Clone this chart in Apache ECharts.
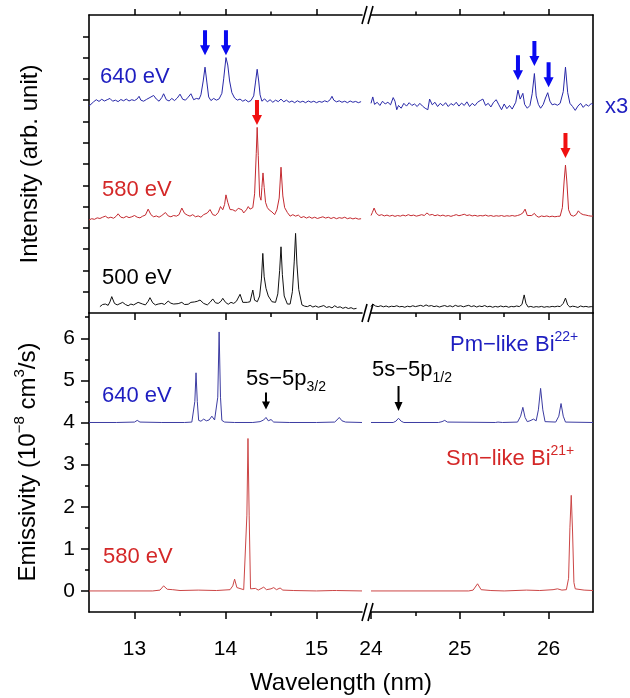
<!DOCTYPE html>
<html>
<head>
<meta charset="utf-8">
<script src="https://cdn.jsdelivr.net/npm/echarts@6.0.0/dist/echarts.min.js"></script>
<style>
  html, body { margin: 0; padding: 0; background: #fff; }
  #chart { width: 630px; height: 698px; }
</style>
</head>
<body>
<div id="chart"></div>
<script>
// ---- measured spectra, top panel (arb. unit), [wavelength nm, intensity] ----
const top640L = [[12.50,9.72],[12.52,9.80],[12.55,9.92],[12.58,10.02],[12.61,9.94],[12.64,10.04],[12.67,9.96],[12.70,10.02],[12.73,10.08],[12.76,9.95],[12.79,10.00],[12.82,9.93],[12.85,10.03],[12.88,9.97],[12.91,10.05],[12.94,9.96],[12.97,10.02],[13.00,9.98],[13.03,10.06],[13.05,10.18],[13.07,10.00],[13.10,9.95],[13.13,10.03],[13.16,10.10],[13.18,10.04],[13.21,10.22],[13.24,10.05],[13.27,9.95],[13.30,10.12],[13.32,10.30],[13.35,10.02],[13.38,9.96],[13.41,10.08],[13.44,9.98],[13.47,10.10],[13.50,10.28],[13.53,10.04],[13.56,10.00],[13.59,10.14],[13.62,10.30],[13.65,10.02],[13.68,10.08],[13.71,10.05],[13.73,10.25],[13.755,10.90],[13.775,11.55],[13.795,10.85],[13.815,10.15],[13.84,9.98],[13.87,10.08],[13.90,10.00],[13.93,10.06],[13.96,10.32],[13.98,11.00],[14.005,12.00],[14.025,11.65],[14.045,10.90],[14.07,10.35],[14.10,10.10],[14.13,10.00],[14.16,10.05],[14.19,9.95],[14.22,10.02],[14.25,9.92],[14.28,9.98],[14.31,10.20],[14.33,10.85],[14.348,11.45],[14.365,10.90],[14.38,10.25],[14.40,9.95],[14.43,10.06],[14.46,9.92],[14.49,10.02],[14.52,9.90],[14.55,10.00],[14.58,9.93],[14.61,10.05],[14.64,9.92],[14.67,10.00],[14.70,9.90],[14.73,9.96],[14.76,9.88],[14.79,9.97],[14.82,9.90],[14.85,9.95],[14.88,9.88],[14.91,9.96],[14.94,9.90],[14.97,9.95],[15.00,9.88],[15.03,9.94],[15.06,9.90],[15.09,9.97],[15.12,9.92],[15.15,10.02],[15.17,10.18],[15.19,10.00],[15.22,9.92],[15.25,9.97],[15.28,9.90],[15.31,9.95],[15.34,9.88],[15.37,9.96],[15.40,9.90],[15.43,9.94],[15.46,9.88],[15.49,9.93]];
const top640R = [[24.00,9.85],[24.02,10.15],[24.04,9.80],[24.07,9.90],[24.10,9.75],[24.13,9.95],[24.16,9.82],[24.19,9.90],[24.22,9.78],[24.25,10.12],[24.27,9.95],[24.29,9.55],[24.31,9.75],[24.34,9.62],[24.37,9.85],[24.40,9.72],[24.43,9.88],[24.46,9.75],[24.49,9.82],[24.52,9.70],[24.55,9.85],[24.58,9.72],[24.61,9.62],[24.64,9.55],[24.66,10.05],[24.69,9.78],[24.72,9.90],[24.75,9.70],[24.78,9.85],[24.81,9.74],[24.84,9.88],[24.87,9.70],[24.90,9.84],[24.93,9.76],[24.96,9.90],[24.99,9.72],[25.02,9.86],[25.05,9.75],[25.08,9.92],[25.11,9.70],[25.14,9.85],[25.17,9.74],[25.20,9.90],[25.23,9.98],[25.26,10.05],[25.29,9.75],[25.32,9.85],[25.35,9.68],[25.38,9.90],[25.41,10.02],[25.44,9.78],[25.47,9.55],[25.50,9.82],[25.53,9.60],[25.56,9.75],[25.59,9.58],[25.63,9.90],[25.655,10.47],[25.68,10.05],[25.71,10.32],[25.73,9.80],[25.76,9.62],[25.79,9.75],[25.815,10.30],[25.84,11.25],[25.86,10.20],[25.885,9.80],[25.91,9.62],[25.94,9.80],[25.965,10.10],[25.99,10.35],[26.015,9.95],[26.04,9.78],[26.07,9.82],[26.10,9.76],[26.13,9.85],[26.165,10.40],[26.19,11.55],[26.215,10.35],[26.24,9.85],[26.27,9.70],[26.30,9.52],[26.33,9.72],[26.36,9.85],[26.39,9.66],[26.42,9.80],[26.45,9.72],[26.48,9.84],[26.50,9.78]];
const top580L = [[12.50,4.37],[12.53,4.43],[12.56,4.40],[12.59,4.47],[12.62,4.44],[12.65,4.50],[12.68,4.55],[12.71,4.46],[12.74,4.50],[12.77,4.45],[12.80,4.55],[12.82,4.66],[12.85,4.50],[12.88,4.47],[12.91,4.54],[12.94,4.48],[12.97,4.52],[13.00,4.58],[13.03,4.50],[13.06,4.47],[13.09,4.55],[13.12,4.60],[13.15,4.88],[13.18,4.62],[13.21,4.52],[13.24,4.56],[13.27,4.50],[13.30,4.58],[13.34,4.72],[13.37,4.56],[13.40,4.52],[13.43,4.58],[13.46,4.55],[13.49,4.62],[13.52,4.93],[13.55,4.68],[13.58,4.60],[13.61,4.55],[13.64,4.62],[13.67,4.52],[13.70,4.56],[13.73,4.50],[13.76,4.62],[13.80,4.70],[13.83,4.86],[13.86,4.62],[13.89,4.58],[13.92,4.72],[13.945,5.00],[13.97,4.85],[13.99,5.10],[14.005,5.55],[14.025,5.20],[14.05,4.86],[14.08,4.85],[14.11,4.78],[14.14,4.92],[14.16,5.00],[14.18,4.85],[14.20,4.70],[14.23,4.85],[14.25,5.00],[14.27,4.88],[14.30,4.95],[14.32,5.60],[14.338,7.50],[14.348,8.72],[14.36,7.40],[14.375,5.50],[14.39,5.30],[14.40,5.90],[14.412,6.58],[14.425,5.90],[14.44,5.20],[14.46,4.95],[14.48,4.84],[14.51,4.75],[14.54,4.62],[14.565,4.85],[14.59,5.40],[14.61,6.85],[14.63,5.50],[14.65,4.95],[14.68,4.72],[14.71,4.55],[14.74,4.62],[14.77,4.55],[14.80,4.60],[14.83,4.48],[14.86,4.53],[14.89,4.46],[14.92,4.52],[14.95,4.45],[14.98,4.50],[15.01,4.44],[15.04,4.48],[15.07,4.52],[15.10,4.46],[15.13,4.50],[15.16,4.44],[15.19,4.49],[15.22,4.43],[15.25,4.48],[15.28,4.45],[15.31,4.50],[15.34,4.43],[15.37,4.47],[15.40,4.42],[15.43,4.46],[15.46,4.41],[15.49,4.43]];
const top580R = [[24.00,4.58],[24.015,4.72],[24.035,4.93],[24.06,4.68],[24.09,4.58],[24.12,4.62],[24.15,4.56],[24.18,4.60],[24.21,4.55],[24.24,4.59],[24.27,4.54],[24.30,4.58],[24.33,4.55],[24.36,4.60],[24.39,4.56],[24.42,4.62],[24.45,4.57],[24.48,4.60],[24.51,4.55],[24.54,4.58],[24.57,4.62],[24.60,4.58],[24.63,4.70],[24.66,4.60],[24.69,4.63],[24.72,4.57],[24.75,4.61],[24.78,4.56],[24.81,4.60],[24.84,4.55],[24.87,4.58],[24.90,4.54],[24.93,4.58],[24.96,4.62],[24.99,4.57],[25.02,4.60],[25.05,4.64],[25.08,4.58],[25.11,4.61],[25.14,4.56],[25.17,4.59],[25.20,4.55],[25.23,4.58],[25.26,4.56],[25.29,4.60],[25.32,4.55],[25.35,4.58],[25.38,4.54],[25.41,4.57],[25.44,4.55],[25.47,4.58],[25.50,4.54],[25.53,4.57],[25.56,4.55],[25.59,4.58],[25.62,4.55],[25.65,4.58],[25.68,4.62],[25.71,4.70],[25.735,4.88],[25.76,4.58],[25.78,4.50],[25.81,4.58],[25.84,4.68],[25.865,4.55],[25.89,4.50],[25.92,4.56],[25.95,4.53],[25.98,4.56],[26.01,4.52],[26.04,4.55],[26.07,4.52],[26.10,4.54],[26.13,4.55],[26.155,4.95],[26.175,6.20],[26.19,6.95],[26.205,6.20],[26.225,4.85],[26.25,4.60],[26.28,4.55],[26.31,4.62],[26.335,4.80],[26.36,4.68],[26.39,4.62],[26.42,4.60],[26.45,4.57],[26.48,4.55],[26.50,4.56]];
const top500L = [[12.62,0.30],[12.65,0.40],[12.68,0.42],[12.71,0.36],[12.73,0.52],[12.75,0.77],[12.78,0.45],[12.81,0.38],[12.84,0.44],[12.87,0.50],[12.90,0.40],[12.93,0.34],[12.96,0.42],[12.99,0.38],[13.01,0.45],[13.04,0.50],[13.06,0.56],[13.09,0.42],[13.12,0.38],[13.15,0.55],[13.17,0.72],[13.20,0.48],[13.23,0.38],[13.26,0.42],[13.30,0.45],[13.33,0.40],[13.37,0.56],[13.40,0.46],[13.43,0.42],[13.45,0.38],[13.48,0.44],[13.52,0.50],[13.55,0.40],[13.59,0.41],[13.62,0.50],[13.66,0.52],[13.69,0.55],[13.72,0.61],[13.76,0.45],[13.80,0.38],[13.83,0.50],[13.86,0.66],[13.89,0.48],[13.92,0.45],[13.95,0.55],[13.97,0.69],[14.00,0.50],[14.03,0.41],[14.06,0.50],[14.09,0.45],[14.12,0.55],[14.16,0.88],[14.19,0.50],[14.21,0.41],[14.24,0.50],[14.27,0.53],[14.30,1.08],[14.32,0.60],[14.35,0.53],[14.375,0.80],[14.395,1.60],[14.41,2.80],[14.425,1.70],[14.445,1.16],[14.47,0.80],[14.51,0.53],[14.55,0.50],[14.575,0.90],[14.595,2.00],[14.61,3.11],[14.625,1.80],[14.645,0.80],[14.68,0.42],[14.71,0.42],[14.735,1.00],[14.755,2.40],[14.77,3.74],[14.785,2.30],[14.805,1.10],[14.84,0.38],[14.87,0.32],[14.90,0.30],[14.93,0.36],[14.96,0.28],[14.99,0.33],[15.02,0.27],[15.05,0.31],[15.08,0.35],[15.11,0.26],[15.14,0.30],[15.17,0.24],[15.20,0.34],[15.23,0.26],[15.26,0.29],[15.29,0.22],[15.32,0.27],[15.35,0.21],[15.38,0.25],[15.41,0.19],[15.44,0.22]];
const top500R = [[24.00,0.30],[24.02,0.42],[24.05,0.33],[24.08,0.30],[24.11,0.34],[24.14,0.29],[24.17,0.33],[24.20,0.28],[24.23,0.32],[24.26,0.30],[24.29,0.34],[24.32,0.29],[24.35,0.31],[24.38,0.27],[24.41,0.32],[24.44,0.29],[24.47,0.34],[24.50,0.30],[24.53,0.33],[24.56,0.36],[24.59,0.31],[24.62,0.38],[24.65,0.32],[24.68,0.35],[24.71,0.30],[24.74,0.33],[24.77,0.28],[24.80,0.32],[24.83,0.35],[24.86,0.30],[24.89,0.34],[24.92,0.29],[24.95,0.36],[24.98,0.31],[25.01,0.34],[25.04,0.29],[25.07,0.33],[25.10,0.36],[25.13,0.30],[25.16,0.34],[25.19,0.28],[25.22,0.33],[25.25,0.30],[25.28,0.35],[25.31,0.29],[25.34,0.32],[25.37,0.27],[25.40,0.31],[25.43,0.28],[25.46,0.33],[25.49,0.29],[25.52,0.32],[25.55,0.27],[25.58,0.31],[25.61,0.29],[25.64,0.33],[25.67,0.30],[25.70,0.40],[25.725,0.85],[25.745,0.45],[25.77,0.28],[25.80,0.31],[25.83,0.27],[25.86,0.30],[25.89,0.28],[25.92,0.31],[25.95,0.27],[25.98,0.30],[26.01,0.28],[26.04,0.31],[26.07,0.29],[26.10,0.32],[26.13,0.30],[26.165,0.45],[26.19,0.70],[26.215,0.38],[26.24,0.28],[26.27,0.32],[26.30,0.30],[26.33,0.26],[26.36,0.33],[26.39,0.29],[26.42,0.31],[26.45,0.28],[26.48,0.30],[26.50,0.29]];

// ---- model emissivity, bottom panel (1e-8 cm^3/s) ----
const bot640L = [[12.50,4.00],[12.80,4.00],[13.00,4.01],[13.03,4.05],[13.06,4.01],[13.30,4.00],[13.55,4.00],[13.63,4.01],[13.65,4.05],[13.663,4.50],[13.676,5.18],[13.69,4.50],[13.705,4.05],[13.73,4.03],[13.76,4.08],[13.79,4.04],[13.82,4.06],[13.85,4.15],[13.88,4.06],[13.90,4.05],[13.915,4.60],[13.93,6.15],[13.945,4.60],[13.96,4.05],[13.99,4.01],[14.10,4.00],[14.30,4.00],[14.38,4.02],[14.42,4.06],[14.445,4.12],[14.47,4.04],[14.50,4.07],[14.53,4.01],[14.70,4.00],[15.00,4.00],[15.20,4.01],[15.225,4.06],[15.25,4.12],[15.28,4.04],[15.32,4.01],[15.50,4.00]];
const bot640R = [[24.00,4.00],[24.25,4.00],[24.28,4.03],[24.31,4.10],[24.34,4.03],[24.37,4.00],[24.76,4.00],[24.80,4.02],[24.83,4.05],[24.86,4.01],[25.40,4.00],[25.43,4.01],[25.45,4.03],[25.48,4.00],[25.65,4.01],[25.685,4.15],[25.71,4.36],[25.735,4.12],[25.76,4.02],[25.79,4.04],[25.83,4.08],[25.86,4.04],[25.885,4.30],[25.91,4.81],[25.935,4.30],[25.96,4.02],[26.08,4.01],[26.115,4.15],[26.14,4.45],[26.165,4.15],[26.19,4.01],[26.50,4.00]];
const bot580L = [[12.50,0.00],[13.20,0.00],[13.28,0.02],[13.32,0.12],[13.36,0.04],[13.42,0.03],[13.50,0.01],[13.70,0.02],[13.90,0.01],[14.05,0.03],[14.08,0.12],[14.10,0.28],[14.125,0.08],[14.20,0.03],[14.22,0.05],[14.235,1.80],[14.247,3.62],[14.26,1.80],[14.275,0.05],[14.29,0.04],[14.33,0.06],[14.36,0.02],[14.42,0.09],[14.45,0.03],[14.50,0.05],[14.53,0.08],[14.56,0.03],[14.60,0.07],[14.63,0.02],[14.75,0.01],[15.00,0.00],[15.18,0.01],[15.20,0.04],[15.22,0.01],[15.50,0.00]];
const bot580R = [[24.00,0.00],[25.10,0.00],[25.15,0.02],[25.20,0.17],[25.24,0.03],[25.35,0.01],[25.50,0.00],[25.75,0.02],[25.90,0.01],[26.05,0.03],[26.10,0.05],[26.15,0.02],[26.20,0.03],[26.225,0.30],[26.24,1.50],[26.255,2.27],[26.27,1.40],[26.285,0.20],[26.30,0.05],[26.40,0.02],[26.50,0.01]];

// ---- arrows: [wavelength, value at the arrow tip] ----
const arrowsBlueL = [[13.775, 12.11], [14.005, 12.11]];
const arrowsBlueR = [[25.655, 10.94], [25.84, 11.60], [26.00, 10.61]];
const arrowsRedL = [[14.346, 8.83]];
const arrowsRedR = [[26.19, 7.28]];
const arrow5p32 = [[14.445, 4.31]];
const arrow5p12 = [[24.31, 4.27]];

// ---- ticks ----
const xMajorL = [13, 14, 15];
const xMinorL = [13.5, 14.5];
const xMajorR = [24, 25, 26];
const xMinorR = [24.5, 25.5];
const xMajorRtop = [25, 26];
const yMajorEm = [0, 1, 2, 3, 4, 5, 6];
const yMinorEm = [0.5, 1.5, 2.5, 3.5, 4.5, 5.5, 6.5];

const FONT = '"Liberation Sans", Arial, sans-serif';
const AX = '#000';
const BLUE = '#2828a8', RED = '#c42a30', BLACK = '#111';
const BLUE_B = '#3c3ca2', RED_B = '#cc4646';
const BLUE_TXT = '#1e1ec0', RED_TXT = '#d42828';
const BLUE_ARW = '#0a0af0', RED_ARW = '#f01010';

const rangeL = [12.5, 15.5], rangeR = [24, 26.5];
const rangeTop = [0, 14], rangeBot = [-0.5, 6.6];

// grid rects (px)
const rTL = { left: 89, top: 15, width: 273, height: 298 };
const rTR = { left: 371, top: 15, width: 222, height: 298 };
const rBL = { left: 89, top: 313, width: 273, height: 299 };
const rBR = { left: 371, top: 313, width: 222, height: 299 };
const grids = [rTL, rTR, rBL, rBR, rTL, rTR, rBL, rBR].map(r => Object.assign({ outerBoundsMode: 'none' }, r));

function xAx(gridIndex, position, range, ticks, len, withLine, labels) {
  return {
    type: 'value', gridIndex, position, min: range[0], max: range[1], interval: 0.5,
    axisLine: { show: withLine, onZero: false, lineStyle: { color: AX, width: 1.6 } },
    axisTick: { show: true, inside: false, length: len, customValues: ticks, lineStyle: { color: AX, width: 1.5 } },
    axisLabel: labels
      ? { show: true, customValues: labels, fontSize: 21, fontFamily: FONT, color: '#000', margin: 27 }
      : { show: false },
    splitLine: { show: false }
  };
}
function yHidden(gridIndex, range) {
  return { type: 'value', gridIndex, min: range[0], max: range[1], show: false };
}
function yAx(gridIndex, position, range, ticks, len, withLine, labels) {
  return {
    type: 'value', gridIndex, position, min: range[0], max: range[1], interval: 0.5,
    axisLine: { show: withLine, onZero: false, lineStyle: { color: AX, width: 1.6 } },
    axisTick: ticks ? { show: true, inside: false, length: len, customValues: ticks, lineStyle: { color: AX, width: 1.5 } } : { show: false },
    axisLabel: labels
      ? { show: true, customValues: labels, fontSize: 21, fontFamily: FONT, color: '#000', margin: 14 }
      : { show: false },
    splitLine: { show: false }
  };
}

const xAxes = [
  xAx(0, 'top', rangeL, xMajorL, 6, true),        // 0
  xAx(0, 'bottom', rangeL, xMajorL, 7, true),     // 1
  xAx(1, 'top', rangeR, xMajorRtop, 6, true),     // 2
  xAx(1, 'bottom', rangeR, xMajorRtop, 7, true),  // 3
  xAx(2, 'bottom', rangeL, xMajorL, 7, true, xMajorL), // 4
  xAx(3, 'bottom', rangeR, xMajorR, 7, true, xMajorR), // 5
  xAx(4, 'top', rangeL, xMinorL, 3.5, false),
  xAx(4, 'bottom', rangeL, xMinorL, 4, false),
  xAx(5, 'top', rangeR, xMinorR, 3.5, false),
  xAx(5, 'bottom', rangeR, xMinorR, 4, false),
  xAx(6, 'bottom', rangeL, xMinorL, 4, false),
  xAx(7, 'bottom', rangeR, xMinorR, 4, false)
];
const topTicks = [1,2,3,4,5,6,7,8,9,10,11,12,13];
const yAxes = [
  yAx(0, 'left', rangeTop, topTicks, 6, true),   // 0
  yHidden(1, rangeTop),                           // 1
  yAx(1, 'right', rangeTop, null, 0, true),       // 2
  yAx(2, 'left', rangeBot, yMajorEm, 8, true, yMajorEm), // 3
  yHidden(3, rangeBot),                           // 4
  yAx(3, 'right', rangeBot, null, 0, true),       // 5
  yHidden(4, rangeTop),
  yHidden(5, rangeTop),
  yAx(6, 'left', rangeBot, yMinorEm, 4, false),
  yHidden(7, rangeBot)
];

function line(data, xi, yi, color) {
  return { type: 'line', data, xAxisIndex: xi, yAxisIndex: yi, symbol: 'none', showSymbol: false,
    lineStyle: { color, width: 1 }, silent: true, z: 3 };
}
const ARROW_BIG = 'path://M3,0 L7,0 L7,15 L10,15 L5,25 L0,15 L3,15 Z';
const ARROW_SHORT = 'path://M3,0 L5,0 L5,9 L8,9 L4,17 L0,9 L3,9 Z';
const ARROW_LONG = 'path://M3,0 L5,0 L5,16 L8,16 L4,25 L0,16 L3,16 Z';
function arrows(data, xi, yi, color, path, size) {
  return { type: 'scatter', data, xAxisIndex: xi, yAxisIndex: yi, symbol: path, symbolSize: size,
    symbolOffset: [0, -size[1] / 2], itemStyle: { color, opacity: 1 }, silent: true, z: 5 };
}

const series = [
  line(top640L, 0, 0, BLUE), line(top640R, 2, 1, BLUE),
  line(top580L, 0, 0, RED), line(top580R, 2, 1, RED),
  line(top500L, 0, 0, BLACK), line(top500R, 2, 1, BLACK),
  line(bot640L, 4, 3, BLUE_B), line(bot640R, 5, 4, BLUE_B),
  line(bot580L, 4, 3, RED_B), line(bot580R, 5, 4, RED_B),
  arrows(arrowsBlueL, 0, 0, BLUE_ARW, ARROW_BIG, [10, 25]),
  arrows(arrowsBlueR, 2, 1, BLUE_ARW, ARROW_BIG, [10, 25]),
  arrows(arrowsRedL, 0, 0, RED_ARW, ARROW_BIG, [10, 25]),
  arrows(arrowsRedR, 2, 1, RED_ARW, ARROW_BIG, [10, 25]),
  arrows(arrow5p32, 4, 3, '#000', ARROW_SHORT, [8, 17]),
  arrows(arrow5p12, 5, 4, '#000', ARROW_LONG, [8, 25])
];

// text labels
function richFor(color, size) {
  const s = size || 14;
  return {
    sub: { fontSize: s, lineHeight: s, verticalAlign: 'bottom', fontFamily: FONT, fill: color },
    sup: { fontSize: s, lineHeight: s, verticalAlign: 'top', fontFamily: FONT, fill: color }
  };
}
function label(text, x, y, color, size, rotation, align) {
  return {
    type: 'text', x, y, rotation: rotation || 0, silent: true, z: 10,
    style: {
      text, fill: color, fontSize: size || 22, fontFamily: FONT, lineHeight: (size || 22) + 8,
      align: align || 'left', verticalAlign: 'middle',
      textAlign: align || 'left', textVerticalAlign: 'middle',
      rich: richFor(color, size ? Math.round(size * 0.62) : 14)
    }
  };
}
const graphics = [
  label('640 eV', 100, 77, BLUE_TXT),
  label('580 eV', 102, 190, RED_TXT),
  label('500 eV', 102, 278, '#000'),
  label('x3', 605, 107, BLUE_TXT),
  label('640 eV', 102, 396, BLUE_TXT),
  label('580 eV', 103, 557, RED_TXT),
  label('5s\u22125p{sub|3/2}', 246, 379, '#000'),
  label('5s\u22125p{sub|1/2}', 372, 370, '#000'),
  label('Pm\u2212like Bi{sup|22+}', 450, 345, BLUE_TXT),
  label('Sm\u2212like Bi{sup|21+}', 446, 459, RED_TXT),
  label('Intensity (arb. unit)', 30, 164, '#000', 24, Math.PI / 2, 'center'),
  label('Emissivity (10{sup|\u22128} cm{sup|3}/s)', 28, 462, '#000', 24, Math.PI / 2, 'center'),
  label('Wavelength (nm)', 341, 683, '#000', 24, 0, 'center')
];
// axis break marks "//"
[15, 313, 612].forEach(y => {
  [364.5, 370.5].forEach(x => {
    graphics.push({ type: 'line', silent: true, z: 10,
      shape: { x1: x - 2.5, y1: y + 9, x2: x + 2.5, y2: y - 9 },
      style: { stroke: '#000', lineWidth: 1.6 } });
  });
});

const chart = echarts.init(document.getElementById('chart'), null, { renderer: 'canvas' });
chart.setOption({
  animation: false,
  backgroundColor: '#fff',
  grid: grids,
  xAxis: xAxes,
  yAxis: yAxes,
  series,
  graphic: { elements: graphics }
});
</script>
</body>
</html>
